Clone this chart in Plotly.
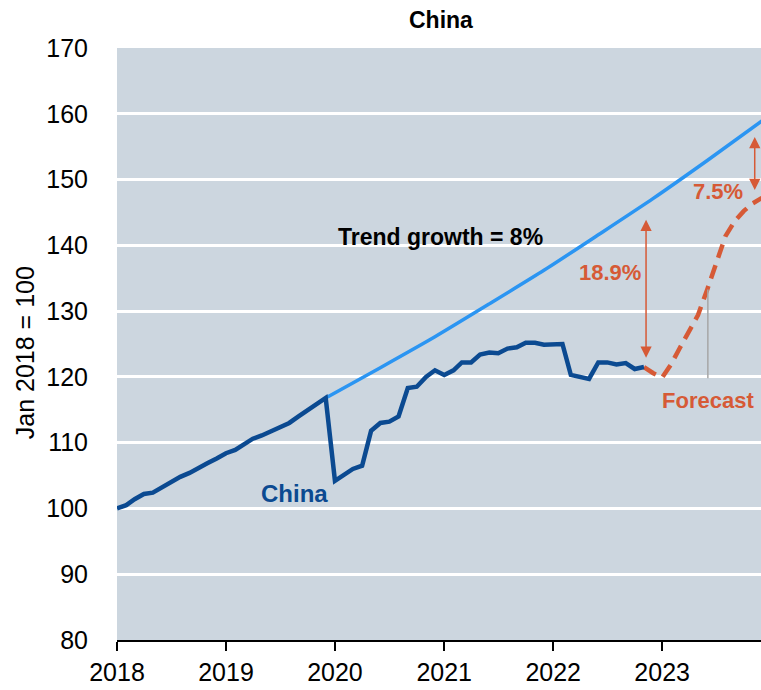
import pandas as pd
import plotly.graph_objects as go

# Monthly index, Jan 2018 = 100
china_start = "2018-01-01"
china_values = [
    100.0, 100.5, 101.4, 102.2, 102.4, 103.2, 104.1, 104.8, 105.4, 106.2, 106.9, 107.6,
    108.4, 108.9, 109.8, 110.6, 111.1, 111.7, 112.4, 113.0, 114.0, 114.9, 115.9, 116.8,
    104.2, 105.1, 106.0, 106.5, 111.8, 113.0, 113.2, 114.0, 118.3, 118.5, 120.0, 121.0,
    120.3, 121.0, 122.2, 122.2, 123.4, 123.7, 123.6, 124.3, 124.5, 125.2, 125.2, 124.9,
    125.0, 125.0, 120.3, 120.0, 119.7, 122.2, 122.2, 121.9, 122.1, 121.2, 121.5,
]

# Forecast path, Nov 2022 - Dec 2023
forecast_start = "2022-11-01"
forecast_values = [
    121.5, 120.6, 119.9, 122.0, 124.4, 126.8, 129.4, 133.3, 137.2, 141.4, 143.7, 145.2,
    146.4, 147.2,
]

# Pre-pandemic trend (8% a year), half-yearly points
trend_dates = ["2019-12-01", "2020-06-01", "2020-12-01", "2021-06-01", "2021-12-01",
               "2022-06-01", "2022-12-01", "2023-06-01", "2023-12-01"]
trend_values = [116.8, 121.4, 126.1, 131.1, 136.2, 141.6, 147.1, 152.9, 158.9]

# Gap arrows: (date, trend level, actual level, label)
gap_arrows = [
    ("2022-11-08", 144.1, 122.9, "18.9%"),
    ("2023-11-07", 156.7, 148.4, "7.5%"),
]

year_ticks = ["2018-01-01", "2019-01-01", "2020-01-01", "2021-01-01", "2022-01-01", "2023-01-01"]
year_labels = ["2018", "2019", "2020", "2021", "2022", "2023"]
y_ticks = [80, 90, 100, 110, 120, 130, 140, 150, 160, 170]

china_dates = pd.date_range(china_start, periods=len(china_values), freq="MS")
forecast_dates = pd.date_range(forecast_start, periods=len(forecast_values), freq="MS")

FONT = "Liberation Sans, Arial, sans-serif"
DARK_BLUE = "#0B4A91"
LIGHT_BLUE = "#2B95F2"
ORANGE = "#D65A36"
BG = "#CCD6DF"

fig = go.Figure()

fig.add_trace(go.Scatter(
    x=trend_dates, y=trend_values, mode="lines",
    line=dict(color=LIGHT_BLUE, width=3.5, shape="spline", smoothing=0.6),
    hoverinfo="skip", showlegend=False,
))
fig.add_trace(go.Scatter(
    x=forecast_dates, y=forecast_values, mode="lines",
    line=dict(color=ORANGE, width=4.5, dash="14px,8px"),
    showlegend=False,
))
fig.add_trace(go.Scatter(
    x=china_dates, y=china_values, mode="lines",
    line=dict(color=DARK_BLUE, width=4.5),
    showlegend=False,
))

annotations = []

for date, top, bottom, label in gap_arrows:
    annotations.append(dict(
        x=date, y=bottom, ax=date, ay=top, xref="x", yref="y", axref="x", ayref="y",
        showarrow=True, arrowside="end+start", arrowhead=2, startarrowhead=2,
        arrowsize=1.5, startarrowsize=1.5, arrowwidth=1.5, arrowcolor=ORANGE,
        standoff=0, startstandoff=0, text="",
    ))

annotations += [
    dict(x="2022-07-10", y=135.8, text="18.9%", showarrow=False,
         font=dict(family=FONT, size=22, color=ORANGE, weight="bold")),
    dict(x="2023-07-06", y=148.2, text="7.5%", showarrow=False,
         font=dict(family=FONT, size=22, color=ORANGE, weight="bold")),
    dict(x="2023-06-03", y=116.4, text="Forecast", showarrow=False,
         font=dict(family=FONT, size=22, color=ORANGE, weight="bold")),
    dict(x="2020-12-19", y=141.2, text="Trend growth = 8%", showarrow=False,
         font=dict(family=FONT, size=23, color="#000000", weight="bold")),
    dict(x="2019-08-18", y=102.3, text="China", showarrow=False,
         font=dict(family=FONT, size=24, color=DARK_BLUE, weight="bold")),
    dict(x=0.503, y=1.047, xref="paper", yref="paper", text="China", showarrow=False,
         yanchor="middle", font=dict(family=FONT, size=23, color="#000000", weight="bold")),
    dict(x=-0.143, y=0.486, xref="paper", yref="paper", text="Jan 2018 = 100",
         showarrow=False, textangle=-90, xanchor="center", yanchor="middle",
         font=dict(family=FONT, size=25, color="#000000")),
]

fig.add_shape(
    type="line", xref="x", yref="y",
    x0="2023-06-03", x1="2023-06-03", y0=133.3, y1=119.8,
    line=dict(color="#A6A6A6", width=1.5), layer="above",
)

fig.update_layout(
    width=761, height=690,
    margin=dict(l=117, r=0, t=48, b=50),
    paper_bgcolor="#FFFFFF", plot_bgcolor=BG,
    font=dict(family=FONT, size=25, color="#000000"),
    annotations=annotations,
    showlegend=False,
)

fig.update_xaxes(
    type="date", range=["2018-01-01", "2023-11-28"],
    tickvals=year_ticks, ticktext=year_labels,
    showgrid=False, zeroline=False,
    showline=True, linecolor="#000000", linewidth=2,
    ticks="outside", ticklen=9, tickwidth=2, tickcolor="#000000",
    tickfont=dict(family=FONT, size=25, color="#000000"),
)
fig.update_yaxes(
    range=[80, 170], tickvals=y_ticks,
    showgrid=True, gridcolor="#FFFFFF", gridwidth=2.5,
    zeroline=False, showline=False, ticks="",
    ticklabelstandoff=28,
    tickfont=dict(family=FONT, size=25, color="#000000"),
)

fig.write_html("out.html")
